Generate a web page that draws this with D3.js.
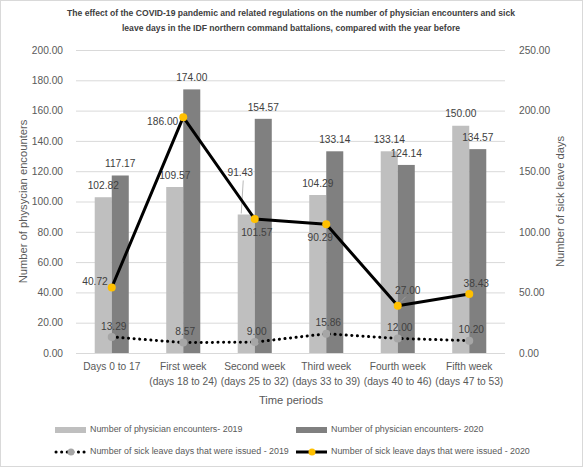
<!DOCTYPE html>
<html><head><meta charset="utf-8">
<script src="https://cdn.jsdelivr.net/npm/d3@7"></script>
<style>
html,body{margin:0;padding:0;background:#fff;}
text{font-family:"Liberation Sans",Arial,sans-serif;}
</style></head>
<body><svg id="c" width="583" height="467"></svg>
<script>
const categories = ["Days 0 to 17","First week|(days 18 to 24)","Second week|(days 25 to 32)","Third week|(days 33 to 39)","Fourth week|(days 40 to 46)","Fifth week|(days 47 to 53)"];
const encounters2019 = [102.82,109.57,91.43,104.29,133.14,150.00];
const encounters2020 = [117.17,174.00,154.57,133.14,124.14,134.57];
const sick2019 = [13.29,8.57,9.00,15.86,12.00,10.20];
const sick2020 = [40.72,186.00,101.57,90.29,27.00,38.43];
const leftTicks = [0,20,40,60,80,100,120,140,160,180,200];
const rightTicks = [0,50,100,150,200,250];
const titleLines = ["The effect of the COVID-19  pandemic and related regulations on the number of physician encounters and sick","leave days in the IDF northern command battalions, compared with the year before"];

const svg = d3.select("#c");
svg.append("rect").attr("x",0.5).attr("y",0.5).attr("width",582).attr("height",466).attr("fill","#fff").attr("stroke","#d9d9d9");

const L=76, R=505, T=50, B=353;
const x0 = d3.scaleBand().domain(categories).range([L,R]).padding(0);
const x1 = d3.scaleBand().domain(["2019","2020"]).range([0,x0.bandwidth()]).paddingInner(0).paddingOuter(1.1);
const yL = d3.scaleLinear().domain([0,200]).range([B,T]);
const yR = d3.scaleLinear().domain([0,250]).range([B,T]);

// title
svg.append("g").selectAll("text").data(titleLines).join("text")
  .attr("x",291).attr("y",(d,i)=>16+i*15).attr("text-anchor","middle")
  .attr("font-size",8.6).attr("font-weight","bold").attr("fill","#404040").text(d=>d);

// gridlines
svg.append("g").selectAll("line").data(leftTicks).join("line")
  .attr("x1",L).attr("x2",R).attr("y1",d=>yL(d)+0.5).attr("y2",d=>yL(d)+0.5)
  .attr("stroke","#d9d9d9").attr("stroke-width",1);

// axes
const axL = svg.append("g").attr("transform",`translate(${L-10},0)`)
  .call(d3.axisLeft(yL).tickValues(leftTicks).tickFormat(d3.format(".2f")).tickSize(0));
const axR = svg.append("g").attr("transform",`translate(${R+11},0)`)
  .call(d3.axisRight(yR).tickValues(rightTicks).tickFormat(d3.format(".2f")).tickSize(0));
[axL,axR].forEach(a=>{a.select(".domain").remove();a.selectAll("text").attr("font-size",10.2).attr("fill","#595959").attr("font-family","'Liberation Sans',Arial,sans-serif").attr("dx",0);});

// bars
const g = svg.append("g");
categories.forEach((c,i)=>{
  g.append("rect").attr("x",x0(c)+x1("2019")).attr("y",yL(encounters2019[i])).attr("width",x1.bandwidth()).attr("height",B-yL(encounters2019[i])).attr("fill","#bfbfbf");
  g.append("rect").attr("x",x0(c)+x1("2020")).attr("y",yL(encounters2020[i])).attr("width",x1.bandwidth()).attr("height",B-yL(encounters2020[i])).attr("fill","#808080");
});
const cx = c=>x0(c)+x0.bandwidth()/2;
const fmt = d3.format(".2f");
const lblFont = 10.2, lblCol="#404040";
function label(x,y,t,anchor){svg.append("text").attr("x",x).attr("y",y).attr("text-anchor",anchor||"middle").attr("dominant-baseline","middle").attr("font-size",lblFont).attr("fill",lblCol).text(t);}

// bar labels
const off19 = [[0,0],[0,0],[-6,-30],[0,0],[0,0],[0,0]];
const off20 = [[0,0],[0,0],[0,0],[0,0],[0,0],[0,0]];
categories.forEach((c,i)=>{
  const bx19 = x0(c)+x1("2019")+x1.bandwidth()/2, bx20 = x0(c)+x1("2020")+x1.bandwidth()/2;
  label(bx19+off19[i][0], yL(encounters2019[i])-11+off19[i][1], fmt(encounters2019[i]));
  label(bx20+off20[i][0], yL(encounters2020[i])-11+off20[i][1], fmt(encounters2020[i]));
});
// leader line for 91.43
{
  const c=categories[2]; const bx=x0(c)+x1("2019")+x1.bandwidth()/2;
  svg.append("line").attr("x1",bx-3).attr("y1",yL(encounters2019[2])-34).attr("x2",bx-5).attr("y2",yL(encounters2019[2])-1).attr("stroke","#a6a6a6").attr("stroke-width",0.8);
}

// lines: 2019 dotted, 2020 stacked on 2019
const pts19 = categories.map((c,i)=>[cx(c),yR(sick2019[i])]);
const pts20 = categories.map((c,i)=>[cx(c),yR(sick2019[i]+sick2020[i])]);
const line = d3.line();
svg.append("path").attr("d",line(pts19)).attr("fill","none").attr("stroke","#000").attr("stroke-width",3).attr("stroke-dasharray","0.1 5.5").attr("stroke-linecap","round");
svg.append("path").attr("d",line(pts20)).attr("fill","none").attr("stroke","#000").attr("stroke-width",3).attr("stroke-linejoin","round");
svg.append("g").selectAll("circle").data(pts19).join("circle").attr("cx",d=>d[0]).attr("cy",d=>d[1]).attr("r",4).attr("fill","#a6a6a6");
svg.append("g").selectAll("circle").data(pts20).join("circle").attr("cx",d=>d[0]).attr("cy",d=>d[1]).attr("r",4).attr("fill","#ffc000");

// 2019 line labels (above)
pts19.forEach((p,i)=>label(p[0]+2,p[1]-10,fmt(sick2019[i])));
// 2020 line labels
const lab20 = [[-4,-5,"end"],[-5,5,"end"],[2,14,"middle"],[-6,14,"middle"],[10,-14,"middle"],[7,-10,"middle"]];
pts20.forEach((p,i)=>label(p[0]+lab20[i][0],p[1]+lab20[i][1],fmt(sick2020[i]),lab20[i][2]));
svg.append("line").attr("x1",pts20[4][0]+3).attr("y1",pts20[4][1]-4).attr("x2",pts20[4][0]+8).attr("y2",pts20[4][1]-9).attr("stroke","#a6a6a6").attr("stroke-width",0.8);

// x labels
categories.forEach(c=>{
  const parts=c.split("|");
  parts.forEach((t,j)=>svg.append("text").attr("x",cx(c)).attr("y",367+j*15).attr("text-anchor","middle").attr("dominant-baseline","middle").attr("font-size",10.2).attr("fill","#595959").text(t));
});
svg.append("text").attr("x",291).attr("y",401).attr("text-anchor","middle").attr("dominant-baseline","middle").attr("font-size",11.2).attr("fill","#595959").text("Time periods");
svg.append("text").attr("transform",`translate(24,${(T+B)/2}) rotate(-90)`).attr("text-anchor","middle").attr("dominant-baseline","middle").attr("font-size",11.2).attr("fill","#595959").text("Number of physycian encounters");
svg.append("text").attr("transform",`translate(561,${(T+B)/2}) rotate(-90)`).attr("text-anchor","middle").attr("dominant-baseline","middle").attr("font-size",11.2).attr("fill","#595959").text("Number of sick leave days");

// legend
const lg = svg.append("g").attr("font-size",8.9).attr("fill","#595959");
const legend = [
  {x:55,y:430,t:"Number of physician encounters- 2019",type:"bar",col:"#bfbfbf"},
  {x:296,y:430,t:"Number of physician encounters- 2020",type:"bar",col:"#808080"},
  {x:55,y:452,t:"Number of sick leave days that were issued - 2019",type:"dot"},
  {x:296,y:452,t:"Number of sick leave days that were issued - 2020",type:"line"}
];
legend.forEach(l=>{
  if(l.type==="bar") lg.append("rect").attr("x",l.x).attr("y",l.y-3).attr("width",31).attr("height",6).attr("fill",l.col);
  else if(l.type==="dot"){
    lg.append("line").attr("x1",l.x+1).attr("x2",l.x+31).attr("y1",l.y).attr("y2",l.y).attr("stroke","#000").attr("stroke-width",3).attr("stroke-dasharray","0.1 5.5").attr("stroke-linecap","round");
    lg.append("circle").attr("cx",l.x+16).attr("cy",l.y).attr("r",3.5).attr("fill","#a6a6a6");
  } else {
    lg.append("line").attr("x1",l.x).attr("x2",l.x+31).attr("y1",l.y).attr("y2",l.y).attr("stroke","#000").attr("stroke-width",3);
    lg.append("circle").attr("cx",l.x+16).attr("cy",l.y).attr("r",3.5).attr("fill","#ffc000");
  }
  lg.append("text").attr("x",l.x+35).attr("y",l.y).attr("dominant-baseline","middle").text(l.t);
});
</script></body></html>
